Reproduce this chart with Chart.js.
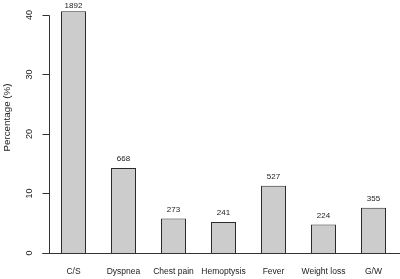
<!DOCTYPE html>
<html><head><meta charset="utf-8">
<script src="https://cdn.jsdelivr.net/npm/chart.js@4"></script>
<style>html,body{margin:0;padding:0;background:#fff}#wrap{width:400px;height:279px}</style>
</head><body><div id="wrap"><canvas id="c" width="400" height="279"></canvas></div>
<script>
const categories = ['C/S','Dyspnea','Chest pain','Hemoptysis','Fever','Weight loss','G/W'];
const percentages = [40.6, 14.3, 5.8, 5.2, 11.3, 4.8, 7.6];
const counts = ['1892','668','273','241','527','224','355'];
const yTicks = [0, 10, 20, 30, 40];
const yTitle = 'Percentage (%)';

const FONT = "'Liberation Sans', Arial, sans-serif";
const INK = '#222222';

const rAxes = {
  id: 'rAxes',
  afterDraw(chart) {
    const {ctx, chartArea, scales: {x, y}} = chart;
    ctx.save();
    ctx.strokeStyle = '#333333';
    ctx.lineWidth = 1;
    const ax = Math.round(chartArea.left) + 0.5;
    const y0 = Math.round(y.getPixelForValue(0)) + 0.5;
    const yTop = Math.round(y.getPixelForValue(yTicks[yTicks.length - 1])) + 0.5;
    ctx.beginPath();
    ctx.moveTo(ax, yTop); ctx.lineTo(ax, y0);
    yTicks.forEach(v => {
      const py = Math.round(y.getPixelForValue(v)) + 0.5;
      ctx.moveTo(ax - 7, py); ctx.lineTo(ax, py);
    });
    ctx.moveTo(ax - 7, y0); ctx.lineTo(chart.width, y0);
    ctx.stroke();

    ctx.fillStyle = INK;
    ctx.textAlign = 'center';
    ctx.textBaseline = 'middle';
    ctx.font = '9px ' + FONT;
    yTicks.forEach(v => {
      const py = y.getPixelForValue(v);
      ctx.save();
      ctx.translate(30, py);
      ctx.rotate(-Math.PI / 2);
      ctx.fillText(String(v), 0, 0);
      ctx.restore();
    });

    ctx.font = '9.8px ' + FONT;
    ctx.save();
    ctx.translate(7, 117.5);
    ctx.rotate(-Math.PI / 2);
    ctx.fillText(yTitle, 0, 0);
    ctx.restore();

    ctx.font = '8px ' + FONT;
    percentages.forEach((v, i) => {
      const px = x.getPixelForValue(i);
      const top = y.getPixelForValue(v);
      const cy = Math.max(top - 9, 6);
      ctx.fillText(counts[i], px, cy);
    });
    ctx.restore();
  }
};

new Chart(document.getElementById('c'), {
  type: 'bar',
  data: {
    labels: categories,
    datasets: [{
      data: percentages,
      backgroundColor: '#cccccc',
      borderColor: '#2b2b2b',
      borderWidth: 1,
      barPercentage: 0.5,
      categoryPercentage: 1.0
    }]
  },
  options: {
    responsive: false,
    devicePixelRatio: 1,
    animation: false,
    layout: {padding: {left: 48.5, right: 1.5, top: 3, bottom: 0}},
    plugins: {legend: {display: false}, tooltip: {enabled: false}},
    scales: {
      x: {
        offset: true,
        grid: {display: false, drawTicks: false},
        border: {display: false},
        ticks: {color: INK, font: {family: FONT, size: 8.5}, padding: 14, maxRotation: 0, autoSkip: false},
        afterFit(s) { s.height = 26; }
      },
      y: {
        display: false,
        min: 0,
        max: 42
      }
    }
  },
  plugins: [rAxes]
});
</script>
</body></html>
